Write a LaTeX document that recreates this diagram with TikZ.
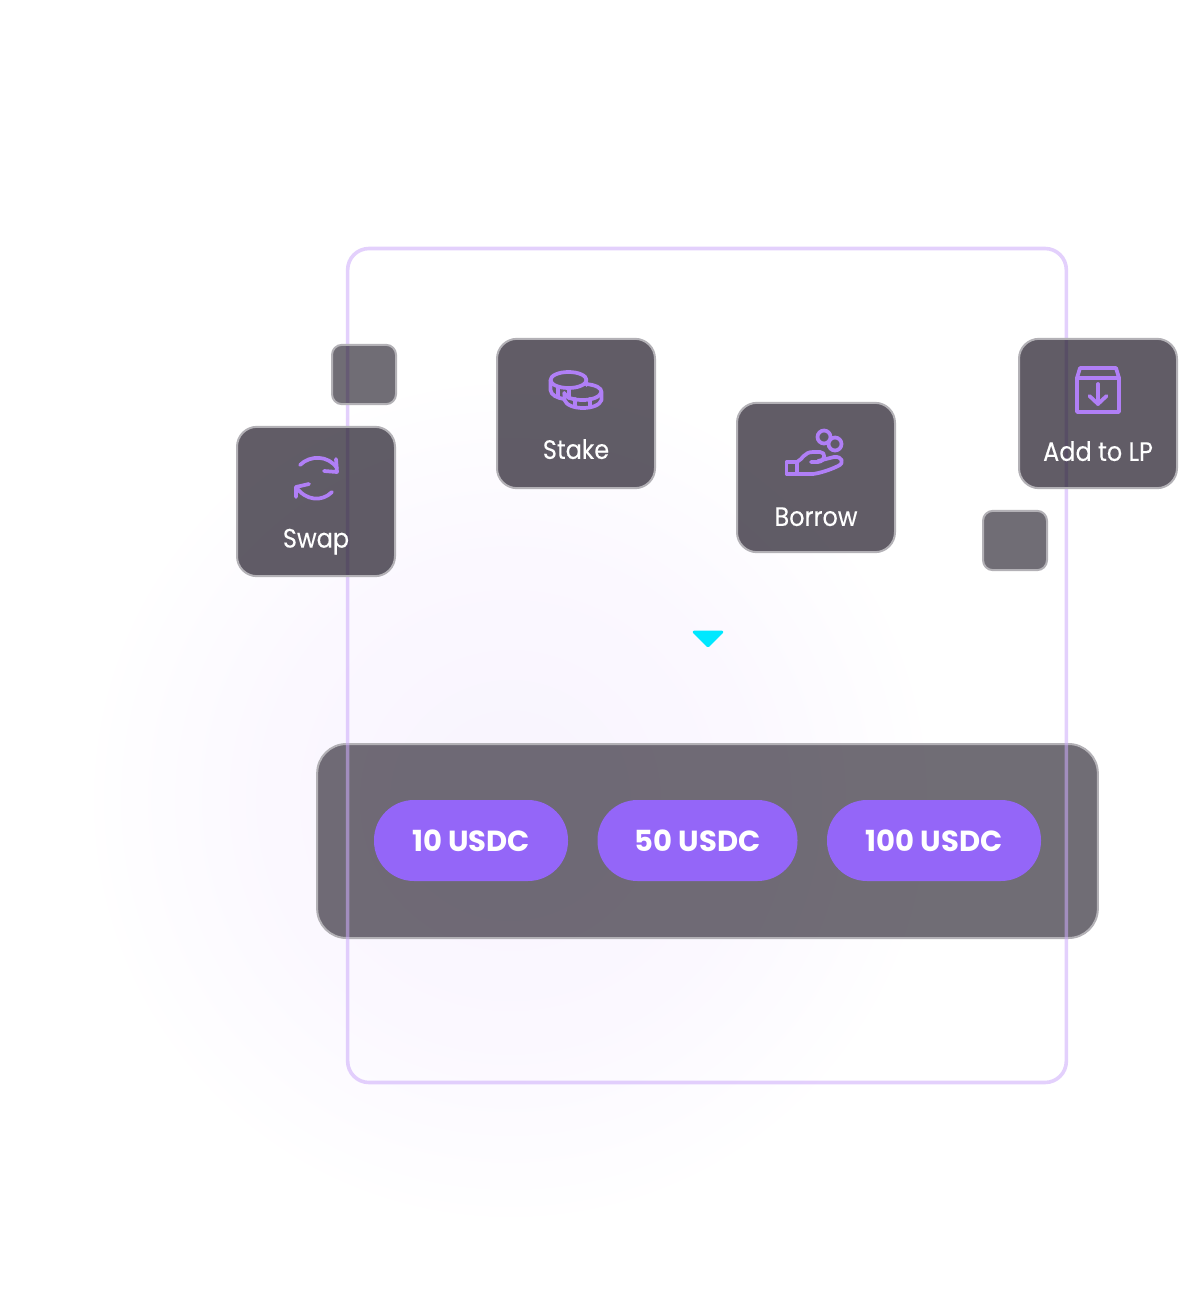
\documentclass[tikz,border=0pt]{standalone}
\usepackage{fontspec}
\setmainfont{Poppins}
\newfontfamily\labelfont[FakeStretch=0.9,FakeBold=0.15]{Poppins}
\usetikzlibrary{positioning,shadings}
\definecolor{glowin}{HTML}{F8F4FE}
\definecolor{glowmid}{HTML}{FBF8FF}
\definecolor{framec}{HTML}{CCAAFB}
\definecolor{boxc}{HTML}{1E1826}
\definecolor{edgec}{HTML}{B3B1B6}
\definecolor{pillc}{HTML}{9466F8}
\definecolor{iconc}{HTML}{B07FF6}
\definecolor{tipc}{HTML}{00E8FF}
\pgfdeclareradialshading{glow}{\pgfpoint{0bp}{0bp}}{color(0bp)=(glowin); color(14bp)=(glowmid); color(25bp)=(white); color(50bp)=(white)}

\begin{document}
\begin{tikzpicture}[
  x=0.75pt, y=-0.75pt,
  font=\labelfont\fontsize{20pt}{24pt}\selectfont,
  % --- node styles ---
  actionbox/.style={
    rectangle,
    draw=edgec,
    line width=1.5pt,
    fill=boxc,
    fill opacity=0.7,
    rounded corners=15pt,
    minimum width=118.5pt,
    minimum height=112pt
  },
  smallbox/.style={
    rectangle,
    draw=edgec,
    line width=1.5pt,
    fill=boxc,
    fill opacity=0.63,
    rounded corners=7.5pt,
    minimum width=48pt,
    minimum height=44.5pt
  },
  boxlabel/.style={
    text=white,
    inner sep=0pt,
    text height=14pt,
    text depth=4pt
  },
  pill/.style={
    rectangle,
    fill=pillc,
    text=white,
    font=\rmfamily\fontsize{21.8pt}{26pt}\selectfont\bfseries,
    rounded corners=30pt,
    minimum height=60.75pt,
    inner sep=0pt
  },
  icon/.style={
    draw=iconc,
    line width=2.8pt,
    line cap=round,
    line join=round
  }
]
\useasboundingbox (0,0) rectangle (1178,1313);
\fill[white] (0,0) rectangle (1178,1313);

% ---- background glow ----
\shade[shading=glow] (510,800) circle (430);

% ---- bottom panel and frame ----
\node[rectangle, draw=edgec, line width=1.5pt, fill=boxc, fill opacity=0.63, rounded corners=22pt,
  minimum width=585.5pt, minimum height=145.5pt] (panel) at (707.5,841) {};
\node[rectangle, draw=framec, draw opacity=0.55, line width=2.7pt, rounded corners=16pt,
  minimum width=539pt, minimum height=625.5pt] (frame) at (707,665.5) {};

% ---- amount buttons ----
\node[pill, minimum width=145.5pt] (usdc10) at (471,840.5) {10 USDC};
\node[pill, minimum width=150pt] (usdc50) at (697.5,840.5) {50 USDC};
\node[pill, minimum width=160.5pt] (usdc100) at (934,840.5) {100 USDC};

% ---- small boxes ----
\node[smallbox] (smallleft) at (364,374.5) {};
\node[smallbox] (smallright) at (1015,540.5) {};

% ---- action boxes ----
\node[actionbox] (swap) at (316,501.5) {};
\node[actionbox] (stake) at (576,413.5) {};
\node[actionbox] (borrow) at (816,477.5) {};
\node[actionbox] (addlp) at (1098,413.5) {};

\node[boxlabel, above=18pt of swap.south] (swaplabel) {Swap};
\node[boxlabel, above=18.5pt of stake.south] (stakelabel) {Stake};
\node[boxlabel, above=16.25pt of borrow.south] (borrowlabel) {Borrow};
\node[boxlabel, above=17pt of addlp.south] (addlplabel) {Add to LP};

% ---- icon: swap ----
\draw[icon] (300,465) .. controls (310,455) and (328,455) .. (337,468);
\draw[icon] (336,459) -- (337,472) -- (324,471);
\draw[icon] (332,492) .. controls (322,502) and (306,501) .. (296,487);
\draw[icon] (309,484) -- (296,487) -- (296,497);

% ---- icon: stake ----
\draw[icon] (568.5,380) ellipse (18 and 8);
\draw[icon] (550.5,380) -- (550.5,390) .. controls (551,395) and (557,398) .. (564,399);
\draw[icon] (586.5,381) -- (586.5,385);
\draw[icon] (558,387) -- (558,396);
\draw[icon] (569,389) -- (569,398);
\draw[icon] (564,393) .. controls (566,398) and (574,400) .. (583,400) .. controls (592,400) and (600,397) .. (601.5,392);
\draw[icon] (586,384) .. controls (596,385) and (601.5,388) .. (601.5,392) -- (601.5,400)
  .. controls (600,405) and (592,408) .. (583,408) .. controls (574,408) and (566,405) .. (564.5,400) -- (564.5,393);
\draw[icon] (575,399) -- (575,407);
\draw[icon] (590,399) -- (590,407);

% ---- icon: borrow ----
\draw[icon] (824,437) circle (6.5);
\draw[icon] (835,444) circle (6.5);
\draw[icon] (786.5,462) rectangle (797,474);
\draw[icon] (797,462) .. controls (803,459) and (804,452) .. (813,452) -- (820,452)
  .. controls (826,452) and (826,461) .. (818,462) -- (811,462);
\draw[icon] (818,461) -- (834,457) .. controls (842,456) and (845,463) .. (838,466)
  .. controls (830,470) and (820,473) .. (813,474) -- (797,474);

% ---- icon: add to LP ----
\draw[icon] (1080,368) -- (1116,368) -- (1119,378) -- (1077,378) -- cycle;
\draw[icon] (1077,378) -- (1077,412) -- (1119,412) -- (1119,378);
\draw[icon] (1098,384) -- (1098,404);
\draw[icon] (1089.5,396) -- (1098,404) -- (1106.5,396);

% ---- pointer ----
\fill[tipc, draw=tipc, line width=2pt, line join=round] (694,632) -- (722,632) -- (708,646) -- cycle;

\end{tikzpicture}
\end{document}
